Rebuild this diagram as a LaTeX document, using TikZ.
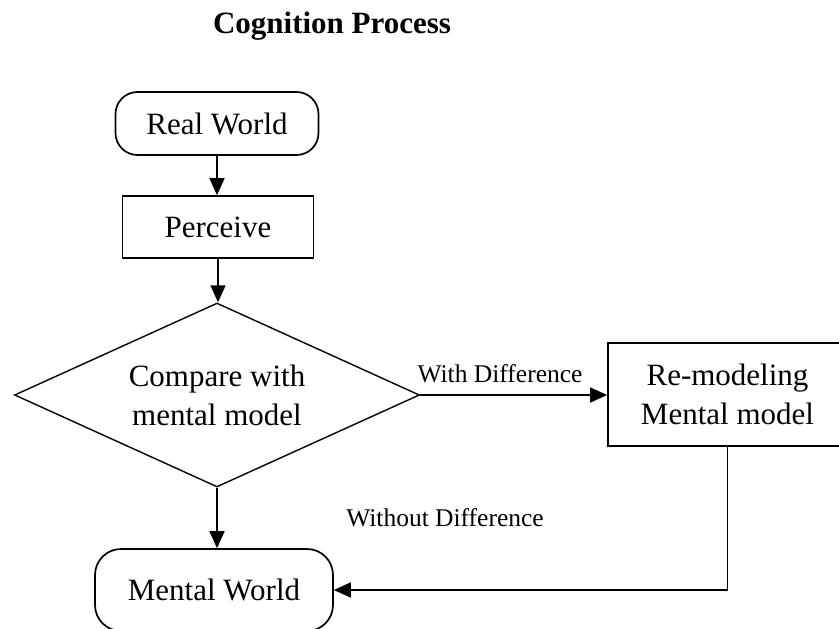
\documentclass[tikz,border=0pt]{standalone}
\usepackage{fontspec}
\setmainfont{Liberation Serif}
\usetikzlibrary{shapes.geometric,arrows.meta}

\tikzset{
  body/.style={font=\fontsize{31}{39}\selectfont, align=center, inner sep=0pt, line width=1.7pt},
  roundbox/.style={body, draw, rounded corners=22pt},
  squarebox/.style={body, draw},
  decision/.style={body, draw, diamond, aspect=2.2, line width=1.4pt},
  edgelabel/.style={font=\fontsize{25.5}{30}\selectfont, inner sep=0pt},
  arr/.style={line width=1.7pt, -{Triangle[length=17pt,width=15pt]}},
}

\begin{document}
\begin{tikzpicture}[x=1pt,y=-1pt]
  \useasboundingbox (0,0) rectangle (839,629);
  \clip (0,0) rectangle (839,629);

  % heading
  \node[font=\fontsize{31}{37}\selectfont\bfseries, anchor=base] (title) at (332,33) {Cognition Process};

  % flow nodes
  \node[roundbox, minimum width=203pt, minimum height=63pt] (real) at (217,123.5) {Real World};
  \node[squarebox, minimum width=191pt, minimum height=62pt] (perc) at (218,227) {Perceive};
  \node[decision, minimum width=405pt, minimum height=184pt] (cmp) at (217,395) {Compare with\\mental model};
  \node[squarebox, minimum width=239pt, minimum height=103pt] (remod) at (727.5,394.5) {Re-modeling\\Mental model};
  \node[roundbox, rounded corners=26pt, minimum width=238pt, minimum height=82pt] (mental) at (214,590) {Mental World};

  % connectors
  \draw[arr] (real.south) -- (real.south |- perc.north);
  \draw[arr] (perc.south) -- (perc.south |- cmp.north);
  \draw[arr] (cmp.east) -- (remod.west |- cmp.east);
  \draw[arr] (cmp.south) -- (cmp.south |- mental.north);
  \draw[arr] (remod.south) |- (mental.east);

  % connector labels
  \node[edgelabel] (lwith) at (500,374) {With Difference};
  \node[edgelabel] (lwithout) at (445,518) {Without Difference};
\end{tikzpicture}
\end{document}
